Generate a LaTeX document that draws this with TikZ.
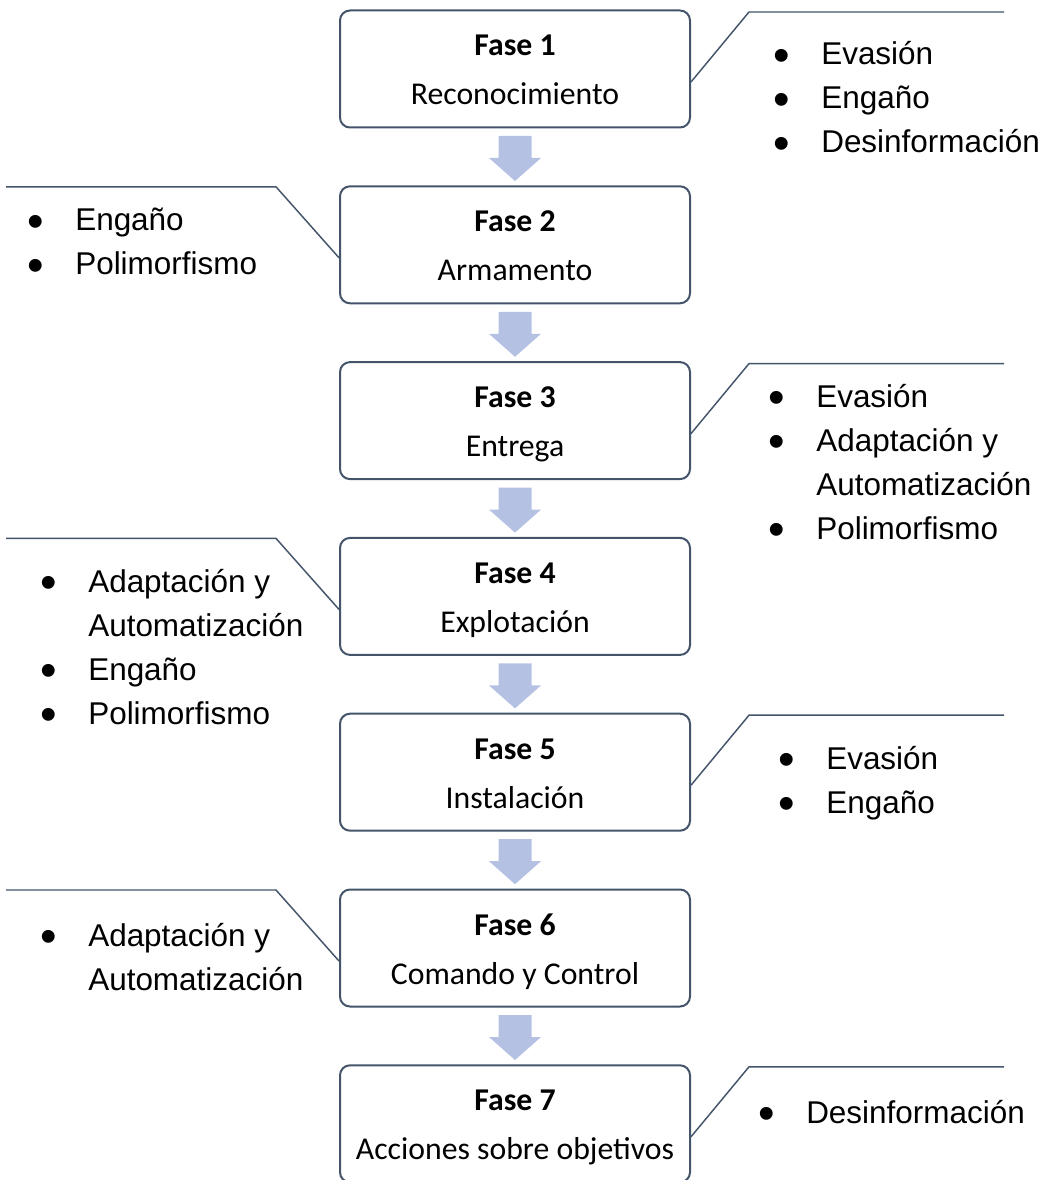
\documentclass[tikz,border=0pt]{standalone}
\usepackage{fontspec}
\setmainfont{Carlito}
\newfontfamily\arialf{Liberation Sans}
\usepackage{graphicx}
\usepackage{xcolor}
\usepackage{tikz}
\usetikzlibrary{calc}

\definecolor{linecol}{RGB}{68,84,106}
\definecolor{arrowcol}{RGB}{180,193,227}

\newcommand{\fs}{\rule[-9.75pt]{0pt}{36.75pt}}
\newcommand{\bul}{\makebox[12pt][c]{\raisebox{-5pt}{\scalebox{1.5}{\textbullet}}}}
\newcommand{\bitems}[1]{\begin{tabular}[t]{@{}l@{\hspace{24pt}}l@{}}#1\end{tabular}}

\begin{document}
\begin{tikzpicture}[
    x=0.75pt, y=-0.75pt,
    fase/.style={draw=linecol, line width=1.5pt, rounded corners=7.5pt, minimum width=262.5pt, minimum height=87.75pt, inner sep=0pt, align=center, font=\fontsize{23.8}{36.75}\selectfont},
    blist/.style={inner sep=0pt, anchor=base west, font=\arialf\fontsize{23.6}{33}\selectfont},
    callout/.style={draw=linecol, line width=1.1pt},
    blockarrow/.style={fill=arrowcol}
]
\useasboundingbox (0,0) rectangle (1044,1180);

% phases
\foreach \i/\txt in {1/Reconocimiento, 2/Armamento, 3/Entrega, 4/Explotación, 5/Instalación, 6/Comando y Control, 7/Acciones sobre objetivos} {
    \node[fase] (f\i) at (515,{69+175.8*(\i-1)}) {\textbf{Fase \i}\fs\\\txt\fs};
}

% arrows between phases
\foreach \i in {1,...,6} {
    \fill[blockarrow] ($(f\i.south)+(-16.5,7.5)$) -- ($(f\i.south)+(16.5,7.5)$) -- ($(f\i.south)+(16.5,29.5)$)
        -- ($(f\i.south)+(26,29.5)$) -- ($(f\i.south)+(0,52.5)$) -- ($(f\i.south)+(-26,29.5)$)
        -- ($(f\i.south)+(-16.5,29.5)$) -- cycle;
}

% callouts on the right
\foreach \i in {1,3,5,7} {
    \coordinate (ka\i) at ($(f\i.east)+(58,-57)$);
    \coordinate (kb\i) at ($(ka\i)+(255,0)$);
    \draw[callout] ($(f\i.east)+(0,13)$) -- (ka\i) -- (kb\i);
}
% callouts on the left
\foreach \i in {2,4,6} {
    \coordinate (ka\i) at ($(f\i.west)+(-63,-58)$);
    \coordinate (kb\i) at ($(ka\i)+(-270,0)$);
    \draw[callout] ($(f\i.west)+(0,13)$) -- (ka\i) -- (kb\i);
}

\node[blist] (l1) at (773,65) {\bitems{\bul & Evasión\\ \bul & Engaño\\ \bul & Desinformación}};
\node[blist] (l2) at (27,231) {\bitems{\bul & Engaño\\ \bul & Polimorfismo}};
\node[blist] (l3) at (768,407) {\bitems{\bul & Evasión\\ \bul & Adaptación y\\ & Automatización\\ \bul & Polimorfismo}};
\node[blist] (l4) at (40,592) {\bitems{\bul & Adaptación y\\ & Automatización\\ \bul & Engaño\\ \bul & Polimorfismo}};
\node[blist] (l5) at (778,769) {\bitems{\bul & Evasión\\ \bul & Engaño}};
\node[blist] (l6) at (40,946) {\bitems{\bul & Adaptación y\\ & Automatización}};
\node[blist] (l7) at (758,1123) {\bitems{\bul & Desinformación}};
\end{tikzpicture}
\end{document}
